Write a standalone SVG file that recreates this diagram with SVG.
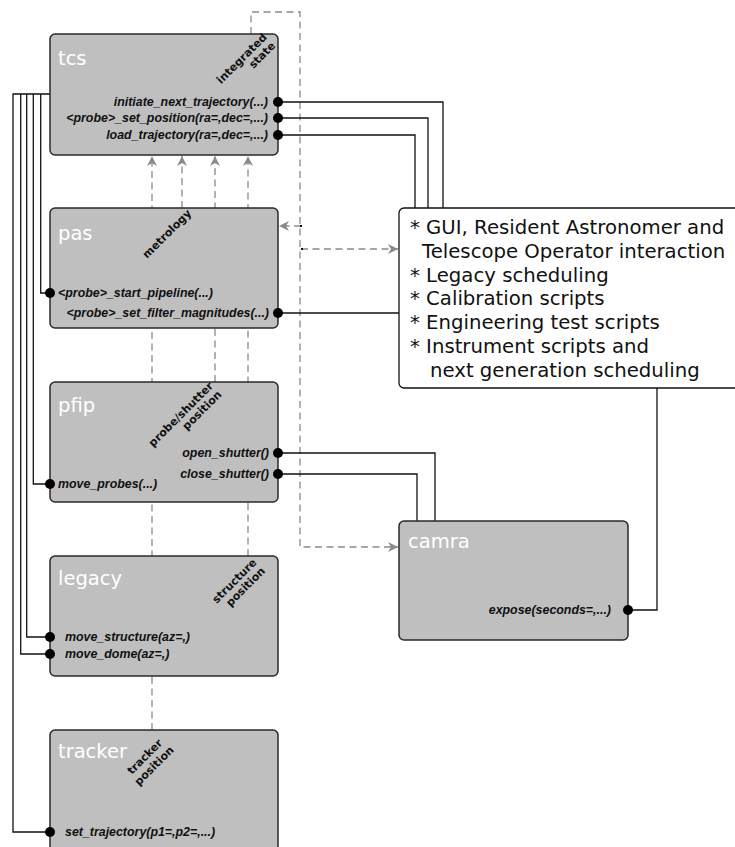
<svg xmlns="http://www.w3.org/2000/svg" width="735" height="847" viewBox="0 0 735 847">
<style>
.box{fill:#bfbfbf;stroke:#2a2a2a;stroke-width:1.5}
.title{font-family:"DejaVu Sans",sans-serif;font-size:19.5px;fill:#fff}
.m{font-family:"Liberation Sans",Arial,sans-serif;font-size:12.4px;font-weight:bold;font-style:italic;fill:#111}
.rot{font-family:"DejaVu Sans",sans-serif;font-size:11px;font-weight:bold;fill:#111}
.note{font-family:"DejaVu Sans",sans-serif;font-size:19.7px;fill:#111}
.dash{fill:none;stroke:#8a8a8a;stroke-width:1.3;stroke-dasharray:7 4.5}
.wire{fill:none;stroke:#111;stroke-width:1.3}
.dot{fill:#000}
</style>
<defs>
<marker id="ah" viewBox="0 0 10 10" refX="10" refY="5" markerWidth="10" markerHeight="10" markerUnits="userSpaceOnUse" orient="auto">
<path d="M0,0 L10,5 L0,10 L3,5 z" fill="#8a8a8a"/>
</marker>
</defs>
<g id="connectors">
<path class="dash" d="M152,730 V156" marker-end="url(#ah)"/>
<path class="dash" d="M182,208 V156" marker-end="url(#ah)"/>
<path class="dash" d="M215,382 V156" marker-end="url(#ah)"/>
<path class="dash" d="M248,556 V156" marker-end="url(#ah)"/>
<path class="dash" d="M251,34 V12 H300 V547 H398" marker-end="url(#ah)"/>
<path class="dash" d="M301,226 H279" marker-end="url(#ah)"/>
<path class="dash" d="M301,249 H398" marker-end="url(#ah)"/>
<rect x="300" y="225" width="2" height="2" fill="#111"/>
<rect x="301" y="248" width="2" height="2" fill="#111"/>
<path class="wire" d="M278,102 H443 V208"/>
<path class="wire" d="M278,118 H428 V208"/>
<path class="wire" d="M278,135 H415 V208"/>
<path class="wire" d="M278,313 H399"/>
<path class="wire" d="M278,453 H435 V521"/>
<path class="wire" d="M278,474 H417 V521"/>
<path class="wire" d="M628,610 H657 V388"/>
<path class="wire" d="M50,94 H13 V832 H50"/>
<path class="wire" d="M40.7,94 V293 H50"/>
<path class="wire" d="M33.3,94 V484 H50"/>
<path class="wire" d="M26.7,94 V637 H50"/>
<path class="wire" d="M20.7,94 V654 H50"/>
</g>
<g id="tcs">
<rect class="box" x="50" y="34" width="228" height="121" rx="5"/>
<text class="title" x="58" y="65">tcs</text>
<text class="rot" transform="translate(267.5,38) rotate(-45)" text-anchor="end"><tspan x="0" y="0">integrated</tspan><tspan x="0" y="12">state</tspan></text>
<text class="m" x="268" y="106" text-anchor="end">initiate_next_trajectory(...)</text>
<text class="m" x="268" y="122" text-anchor="end">&lt;probe&gt;_set_position(ra=,dec=,...)</text>
<text class="m" x="268" y="139" text-anchor="end">load_trajectory(ra=,dec=,...)</text>
<circle class="dot" cx="278" cy="102" r="5"/>
<circle class="dot" cx="278" cy="118" r="5"/>
<circle class="dot" cx="278" cy="135" r="5"/>
</g>
<g id="pas">
<rect class="box" x="50" y="208" width="228" height="120" rx="5"/>
<text class="title" x="58" y="240">pas</text>
<text class="rot" transform="translate(192,214) rotate(-45)" text-anchor="end">metrology</text>
<text class="m" x="58" y="297">&lt;probe&gt;_start_pipeline(...)</text>
<text class="m" x="269" y="317" text-anchor="end">&lt;probe&gt;_set_filter_magnitudes(...)</text>
<circle class="dot" cx="50" cy="293" r="5"/>
<circle class="dot" cx="278" cy="313" r="5"/>
</g>
<g id="pfip">
<rect class="box" x="50" y="382" width="228" height="120" rx="5"/>
<text class="title" x="58" y="412">pfip</text>
<text class="rot" transform="translate(213.8,386.7) rotate(-45)" text-anchor="end"><tspan x="0" y="0">probe/shutter</tspan><tspan x="0" y="12">position</tspan></text>
<text class="m" x="269" y="457" text-anchor="end">open_shutter()</text>
<text class="m" x="269" y="478" text-anchor="end">close_shutter()</text>
<text class="m" x="58" y="488">move_probes(...)</text>
<circle class="dot" cx="278" cy="453" r="5"/>
<circle class="dot" cx="278" cy="474" r="5"/>
<circle class="dot" cx="50" cy="484" r="5"/>
</g>
<g id="legacy">
<rect class="box" x="50" y="556" width="228" height="120" rx="5"/>
<text class="title" x="58" y="585">legacy</text>
<text class="rot" transform="translate(257.4,563.2) rotate(-45)" text-anchor="end"><tspan x="0" y="0">structure</tspan><tspan x="0" y="12">position</tspan></text>
<text class="m" x="65" y="641">move_structure(az=,)</text>
<text class="m" x="65" y="658">move_dome(az=,)</text>
<circle class="dot" cx="50" cy="637" r="5"/>
<circle class="dot" cx="50" cy="654" r="5"/>
</g>
<g id="tracker">
<rect class="box" x="50" y="730" width="228" height="125" rx="5"/>
<text class="title" x="58" y="758">tracker</text>
<text class="rot" transform="translate(163.2,743.6) rotate(-45)" text-anchor="end"><tspan x="0" y="0">tracker</tspan><tspan x="3" y="13">position</tspan></text>
<text class="m" x="65" y="836">set_trajectory(p1=,p2=,...)</text>
<circle class="dot" cx="50" cy="832" r="5"/>
</g>
<g id="camra">
<rect class="box" x="399" y="521" width="229" height="119" rx="5"/>
<text class="title" x="408" y="548">camra</text>
<text class="m" x="611" y="614" text-anchor="end">expose(seconds=,...)</text>
<circle class="dot" cx="628" cy="610" r="5"/>
</g>
<g id="operations">
<rect x="399" y="208" width="345" height="180" rx="5" fill="#fff" stroke="#111" stroke-width="1.3"/>
<text class="note" x="410" y="234.3">* GUI, Resident Astronomer and</text>
<text class="note" x="422" y="258">Telescope Operator interaction</text>
<text class="note" x="410" y="281.7">* Legacy scheduling</text>
<text class="note" x="410" y="305.4">* Calibration scripts</text>
<text class="note" x="410" y="329.1">* Engineering test scripts</text>
<text class="note" x="410" y="352.8">* Instrument scripts and</text>
<text class="note" x="430" y="376.5">next generation scheduling</text>
</g>
</svg>
